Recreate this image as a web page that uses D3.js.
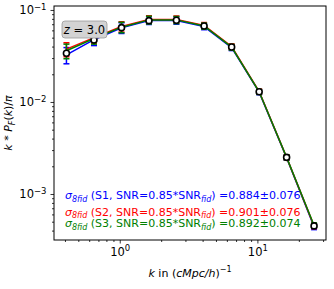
<!DOCTYPE html>
<html lang="en">
<head>
  <meta charset="UTF-8">
  <title>Flux power spectrum z=3.0</title>
  <script src="https://d3js.org/d3.v7.min.js"></script>
  <style>
    body { margin: 0; background: #fff; }
    svg { font-family: "DejaVu Sans", sans-serif; }
  </style>
</head>
<body>
<svg id="chart" width="334" height="289"></svg>
<script>
// k bins and measured values
const kVals = [0.41, 0.65, 1.03, 1.63, 2.58, 4.1, 6.5, 10.3, 16.3, 25.8];
const meanVals = [0.0338, 0.0472, 0.0642, 0.0765, 0.0772, 0.067, 0.0396, 0.0129, 0.0025, 0.00045];
const s1Vals = [0.0325, 0.0475, 0.064, 0.077, 0.077, 0.066, 0.039, 0.0128, 0.00248, 0.00044];
const s2Vals = [0.0375, 0.050, 0.066, 0.079, 0.079, 0.068, 0.040, 0.0130, 0.0025, 0.00045];
const s3Vals = [0.036, 0.049, 0.065, 0.078, 0.078, 0.067, 0.0395, 0.0129, 0.0025, 0.000455];
const errVals = [0.0065, 0.0065, 0.0085, 0.0075, 0.007, 0.005, 0.0028, 0.0008, 0.00015, 0.00003];
const seriesNames = ["S1", "S2", "S3"];
const seriesColors = ["blue", "red", "green"];
const sigmaVals = ["0.884", "0.901", "0.892"];
const sigmaErrs = ["0.076", "0.076", "0.074"];
const xTicks = [1, 10];
const yTicks = [1e-3, 1e-2, 1e-1];

const margin = {top: 6, right: 8, bottom: 49, left: 54};
const width = 334 - margin.left - margin.right;
const height = 289 - margin.top - margin.bottom;

const svg = d3.select("#chart");
const g = svg.append("g").attr("transform", `translate(${margin.left},${margin.top})`);

const x = d3.scaleLog().domain([0.333, 31.5]).range([0, width]);
const y = d3.scaleLog().domain([Math.pow(10, -3.5), Math.pow(10, -0.957)]).range([height, 0]);

// minor ticks
const minorX = [];
[0.1, 1, 10].forEach(d => { for (let i = 2; i <= 9; i++) minorX.push(d * i); });
const minorY = [];
[1e-4, 1e-3, 1e-2].forEach(d => { for (let i = 2; i <= 9; i++) minorY.push(d * i); });
const inX = v => v >= x.domain()[0] && v <= x.domain()[1];
const inY = v => v >= y.domain()[0] && v <= y.domain()[1];

const powLabel = (sel) => {
  sel.selectAll(".tick text").each(function(d) {
    const e = Math.round(Math.log10(d));
    const t = d3.select(this).text("");
    t.append("tspan").text("10");
    t.append("tspan").attr("dy", "-0.5em").attr("font-size", "8.5px").text(e < 0 ? "\u2212" + Math.abs(e) : e);
  });
};

const xAxis = g.append("g").attr("transform", `translate(0,${height})`)
  .call(d3.axisBottom(x).tickValues(xTicks).tickSize(3.5).tickPadding(4));
powLabel(xAxis);
g.append("g").attr("transform", `translate(0,${height})`)
  .call(d3.axisBottom(x).tickValues(minorX.filter(inX)).tickSize(2).tickFormat(""));

const yAxis = g.append("g")
  .call(d3.axisLeft(y).tickValues(yTicks).tickSize(3.5).tickPadding(4));
powLabel(yAxis);
g.append("g")
  .call(d3.axisLeft(y).tickValues(minorY.filter(inY)).tickSize(2).tickFormat(""));

g.selectAll(".domain").remove();
g.selectAll(".tick text").attr("font-size", 11.5).attr("fill", "#000").attr("font-family", "DejaVu Sans");
g.selectAll(".tick line").attr("stroke", "#000").attr("stroke-width", 0.8);

// frame
g.append("rect").attr("width", width).attr("height", height)
  .attr("fill", "none").attr("stroke", "#000").attr("stroke-width", 1);

// series lines with error bars
const allSeries = [s1Vals, s2Vals, s3Vals];
const line = d3.line().x(d => x(d[0])).y(d => y(d[1]));
allSeries.forEach((vals, si) => {
  const col = seriesColors[si];
  const pts = kVals.map((k, i) => [k, vals[i], errVals[i]]);
  const eg = g.append("g");
  pts.forEach(p => {
    const x0 = x(p[0]);
    const yt = y(p[1] + p[2]), yb = y(Math.max(p[1] - p[2], 1e-6));
    eg.append("line").attr("x1", x0).attr("x2", x0).attr("y1", yt).attr("y2", yb)
      .attr("stroke", col).attr("stroke-width", 1.5);
    [yt, yb].forEach(yy => eg.append("line").attr("x1", x0 - 3).attr("x2", x0 + 3)
      .attr("y1", yy).attr("y2", yy).attr("stroke", col).attr("stroke-width", 1.5));
  });
  g.append("path").datum(pts).attr("d", line)
    .attr("fill", "none").attr("stroke", col).attr("stroke-width", 1.5);
});

// mean markers
g.selectAll("circle.mean").data(kVals.map((k, i) => [k, meanVals[i]])).enter()
  .append("circle").attr("class", "mean")
  .attr("cx", d => x(d[0])).attr("cy", d => y(d[1])).attr("r", 3)
  .attr("fill", "#fff").attr("stroke", "#000").attr("stroke-width", 1.6);

// z label box
const zb = g.append("g").attr("transform", "translate(8,15)");
zb.append("rect").attr("width", 45).attr("height", 17).attr("rx", 3)
  .attr("fill", "#d3d3d3").attr("stroke", "#999").attr("stroke-width", 0.8);
const zt = zb.append("text").attr("x", 22.5).attr("y", 13).attr("text-anchor", "middle")
  .attr("font-size", 11.5).attr("fill", "#000");
zt.append("tspan").attr("font-style", "italic").text("z");
zt.append("tspan").text(" = 3.0");

// legend text
const legendY = [193, 209.5, 221];
seriesNames.forEach((name, i) => {
  const t = g.append("text").attr("x", 11).attr("y", legendY[i])
    .attr("font-size", 11).attr("fill", seriesColors[i]);
  t.append("tspan").attr("font-style", "italic").text("\u03c3");
  t.append("tspan").attr("font-style", "italic").attr("font-size", 8).attr("dy", 2.5).text("8fid");
  t.append("tspan").attr("dy", -2.5).text(` (${name}, SNR=0.85*SNR`);
  t.append("tspan").attr("font-style", "italic").attr("font-size", 8).attr("dy", 2.5).text("fid");
  t.append("tspan").attr("dy", -2.5).text(`) =${sigmaVals[i]}\u00b1${sigmaErrs[i]}`);
});

// axis labels
const xl = svg.append("text").attr("x", margin.left + width / 2).attr("y", 277)
  .attr("text-anchor", "middle").attr("font-size", 11);
xl.append("tspan").attr("font-style", "italic").text("k");
xl.append("tspan").text(" in (");
xl.append("tspan").attr("font-style", "italic").text("cMpc/h");
xl.append("tspan").text(")");
xl.append("tspan").attr("dy", -5).attr("font-size", 8).text("\u22121");

const yl = svg.append("text").attr("transform", `translate(12,${margin.top + height / 2}) rotate(-90)`)
  .attr("text-anchor", "middle").attr("font-size", 11);
yl.append("tspan").attr("font-style", "italic").text("k");
yl.append("tspan").text(" * ");
yl.append("tspan").attr("font-style", "italic").text("P");
yl.append("tspan").attr("font-style", "italic").attr("font-size", 8).attr("dy", 2.5).text("F");
yl.append("tspan").attr("dy", -2.5).text("(");
yl.append("tspan").attr("font-style", "italic").text("k");
yl.append("tspan").text(")/");
yl.append("tspan").attr("font-style", "italic").text("\u03c0");
</script>
</body>
</html>
